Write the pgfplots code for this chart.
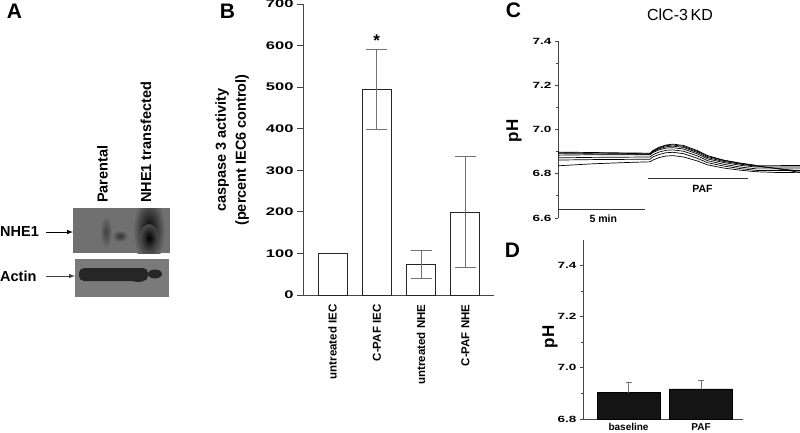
\documentclass[border=0pt]{standalone}
\usepackage{fontspec}
\setmainfont{Liberation Sans}
\usepackage{pgfplots}
\pgfplotsset{compat=1.18}
\usepackage{graphicx}
\newcommand{\W}[1]{\scalebox{1.5}[1]{#1}}
\newcommand{\fs}[1]{\fontsize{#1}{#1}\selectfont}
\definecolor{blotA}{RGB}{112,112,112}
\definecolor{blotB}{RGB}{122,122,122}
\definecolor{axc}{RGB}{70,70,70}
\begin{document}
\begin{tikzpicture}[x=1pt,y=1pt]
\useasboundingbox (0pt,0pt) rectangle (800pt,-432pt);
% ---------------- Panel A ----------------
\node[font=\bfseries\fs{21}] at (14.5pt,-11pt) {A};
\fill[blotA] (73pt,-208pt) rectangle (170pt,-253pt);
\begin{scope}
\clip (73pt,-208pt) rectangle (170pt,-253pt);
\shade[inner color=black!75, outer color=blotA] (106pt,-232pt) ellipse (6pt and 16pt);
\shade[inner color=black!80, outer color=blotA] (120pt,-236pt) ellipse (8pt and 6pt);
\shade[inner color=black, outer color=blotA] (149pt,-230pt) ellipse (16pt and 34pt);
\shade[inner color=black, outer color=black!70] (149pt,-238pt) ellipse (9pt and 14pt);
\end{scope}
\fill[blotB] (75pt,-259pt) rectangle (169pt,-297pt);
\fill[black!85, rounded corners=5pt] (79pt,-268pt) rectangle (148pt,-281pt);
\fill[black!85] (138pt,-275pt) ellipse (10pt and 7pt);
\fill[black!85] (155pt,-274pt) ellipse (7pt and 4.5pt);
\draw[-latex, line width=1pt] (46pt,-232pt) -- (73pt,-232pt);
\draw[-latex, line width=1pt, black!75] (46pt,-276pt) -- (75pt,-276pt);
\node[font=\bfseries\fs{14.5}, anchor=west, inner sep=0pt] at (0pt,-232pt) {NHE1};
\node[font=\bfseries\fs{14.5}, anchor=west, inner sep=0pt] at (0pt,-276pt) {Actin};
\node[font=\bfseries\fs{14.5}, rotate=90, anchor=west, inner sep=0pt] at (102.5pt,-203pt) {Parental};
\node[font=\bfseries\fs{14.5}, rotate=90, anchor=west, inner sep=0pt] at (146pt,-203pt) {NHE1 transfected};
% ---------------- Panel B ----------------
\node[font=\bfseries\fs{21}] at (227.5pt,-11pt) {B};
\node[rotate=90, align=center, font=\bfseries\fontsize{14.5}{20}\selectfont] at (232pt,-150pt) {caspase 3 activity\\(percent IEC6 control)};
\begin{axis}[at={(303pt,-295pt)}, anchor=south west, scale only axis,
  width=191pt, height=291pt,
  xmin=-0.666, xmax=3.646, ymin=0, ymax=700,
  axis x line=bottom, axis y line=left,
  axis line style={-, axc, line width=0.9pt},
  ytick={0,100,...,700}, tick align=outside, major tick length=6pt,
  ytick style={axc, line width=0.9pt},
  xtick={0,1,2,3}, xticklabels={untreated IEC, C-PAF IEC, untreated NHE, C-PAF NHE},
  xtick style={draw=none},
  xticklabel style={rotate=90, anchor=east, font=\bfseries\fs{11.5}},
  yticklabel={\W{\pgfmathprintnumber[assume math mode=true]{\tick}}},
  yticklabel style={font=\bfseries\fs{11}},
  clip=false]
\addplot[ybar, bar width=29pt, draw=black!85, fill=white, line width=0.9pt]
  coordinates {(0,100)};
\addplot[ybar, bar width=29pt, draw=black!85, fill=white, line width=0.9pt,
  error bars/.cd, y dir=both, y explicit,
  error bar style={black!55, line width=1pt},
  error mark options={rotate=90, black!55, mark size=10.5pt, line width=1pt}]
  coordinates {(1,493.5) +- (0,96.5) (2,73.5) +- (0,33.5) (3,199) +- (0,134)};
\node[font=\bfseries\fs{17}] at (axis cs:1,613) {*};
\end{axis}
% ---------------- Panel C ----------------
\node[font=\bfseries\fs{21}] at (513.5pt,-10pt) {C};
\node[font=\fs{16}] at (680pt,-15pt) {ClC-3\,KD};
\node[rotate=90, font=\bfseries\fs{17}] at (514pt,-131pt) {pH};
\begin{axis}[at={(558pt,-218pt)}, anchor=south west, scale only axis,
  width=242pt, height=177pt,
  xmin=0, xmax=13.9, ymin=6.6, ymax=7.4,
  axis x line=none, axis y line=left,
  axis line style={-, axc, line width=0.9pt},
  ytick={6.6,6.8,7.0,7.2,7.4}, minor ytick={6.7,6.9,7.1,7.3},
  tick align=outside, major tick length=3pt, minor tick length=2.5pt,
  every tick/.style={axc, line width=0.8pt},
  yticklabel={\W{\pgfmathprintnumber[fixed, fixed zerofill, precision=1, assume math mode=true]{\tick}}},
  yticklabel style={font=\bfseries\fs{9}},
  every axis plot/.append style={mark=none},
  clip=false]
\addplot[black, line width=0.7pt] coordinates {(0,6.898)(2,6.896)(4,6.894)(5.29,6.893)(5.45,6.905)(5.8,6.920)(6.2,6.930)(6.6,6.934)(7.2,6.928)(8.0,6.905)(8.6,6.882)(9.5,6.862)(10.5,6.848)(11.4,6.838)(12.5,6.838)(13.9,6.837)};
\addplot[black, line width=0.7pt] coordinates {(0,6.895)(2,6.894)(4,6.892)(5.29,6.890)(5.45,6.902)(5.8,6.917)(6.2,6.927)(6.6,6.930)(7.2,6.924)(8.0,6.901)(8.6,6.878)(9.5,6.860)(10.5,6.846)(11.4,6.836)(12.5,6.824)(13.9,6.806)};
\addplot[black, line width=0.7pt] coordinates {(0,6.890)(2,6.890)(4,6.889)(5.29,6.888)(5.45,6.899)(5.8,6.913)(6.2,6.922)(6.6,6.925)(7.2,6.919)(8.0,6.896)(8.6,6.873)(9.5,6.856)(10.5,6.843)(11.4,6.834)(12.5,6.825)(13.9,6.812)};
\addplot[black, line width=0.7pt] coordinates {(0,6.884)(2,6.886)(4,6.886)(5.29,6.886)(5.45,6.896)(5.8,6.908)(6.2,6.916)(6.6,6.918)(7.2,6.912)(8.0,6.890)(8.6,6.867)(9.5,6.851)(10.5,6.838)(11.4,6.830)(12.5,6.831)(13.9,6.831)};
\addplot[black, line width=0.7pt] coordinates {(0,6.872)(2,6.874)(4,6.875)(5.29,6.876)(5.45,6.886)(5.8,6.898)(6.2,6.906)(6.6,6.908)(7.2,6.902)(8.0,6.881)(8.6,6.859)(9.5,6.843)(10.5,6.830)(11.4,6.822)(12.5,6.822)(13.9,6.822)};
\addplot[black, line width=0.7pt] coordinates {(0,6.862)(2,6.864)(4,6.865)(5.29,6.866)(5.45,6.876)(5.8,6.887)(6.2,6.895)(6.6,6.897)(7.2,6.891)(8.0,6.870)(8.6,6.850)(9.5,6.835)(10.5,6.823)(11.4,6.815)(12.5,6.815)(13.9,6.815)};
\addplot[black, line width=0.7pt] coordinates {(0,6.836)(2,6.845)(4,6.851)(5.29,6.854)(5.45,6.862)(5.8,6.873)(6.2,6.880)(6.6,6.882)(7.2,6.876)(8.0,6.858)(8.6,6.840)(9.5,6.826)(10.5,6.816)(11.4,6.809)(12.5,6.806)(13.9,6.805)};
\addplot[black!80, line width=1.3pt] coordinates {(0,6.64)(5,6.64)};
\addplot[black!80, line width=1.3pt] coordinates {(5.17,6.78)(10.92,6.78)};
\node[font=\bfseries\fs{10.5}] at (axis cs:2.6,6.598) {5 min};
\node[font=\bfseries\fs{10.5}] at (axis cs:8.3,6.733) {PAF};
\end{axis}
% ---------------- Panel D ----------------
\node[font=\bfseries\fs{21}] at (512.5pt,-250.5pt) {D};
\node[rotate=90, font=\bfseries\fs{17}] at (550pt,-337pt) {pH};
\begin{axis}[at={(583pt,-419pt)}, anchor=south west, scale only axis,
  width=160pt, height=179pt,
  xmin=-0.628, xmax=1.579, ymin=6.8, ymax=7.5,
  axis x line=bottom, axis y line=left,
  axis line style={-, axc, line width=0.9pt},
  ytick={6.8,7.0,7.2,7.4}, minor ytick={6.9,7.1,7.3},
  tick align=outside, major tick length=3pt, minor tick length=2.5pt,
  ytick style={axc, line width=0.8pt},
  xtick={0,1}, xticklabels={baseline, PAF}, xtick style={draw=none},
  xticklabel style={font=\bfseries\fs{10}, inner sep=1.5pt},
  yticklabel={\W{\pgfmathprintnumber[fixed, fixed zerofill, precision=1, assume math mode=true]{\tick}}},
  yticklabel style={font=\bfseries\fs{9}}]
\addplot[ybar, bar width=63pt, draw=black, fill=black!92,
  error bars/.cd, y dir=plus, y explicit,
  error bar style={black!55, line width=1pt},
  error mark options={rotate=90, black!55, mark size=3pt, line width=1pt}]
  coordinates {(0,6.903) +- (0,0.039) (1,6.918) +- (0,0.032)};
\end{axis}
\end{tikzpicture}
\end{document}
